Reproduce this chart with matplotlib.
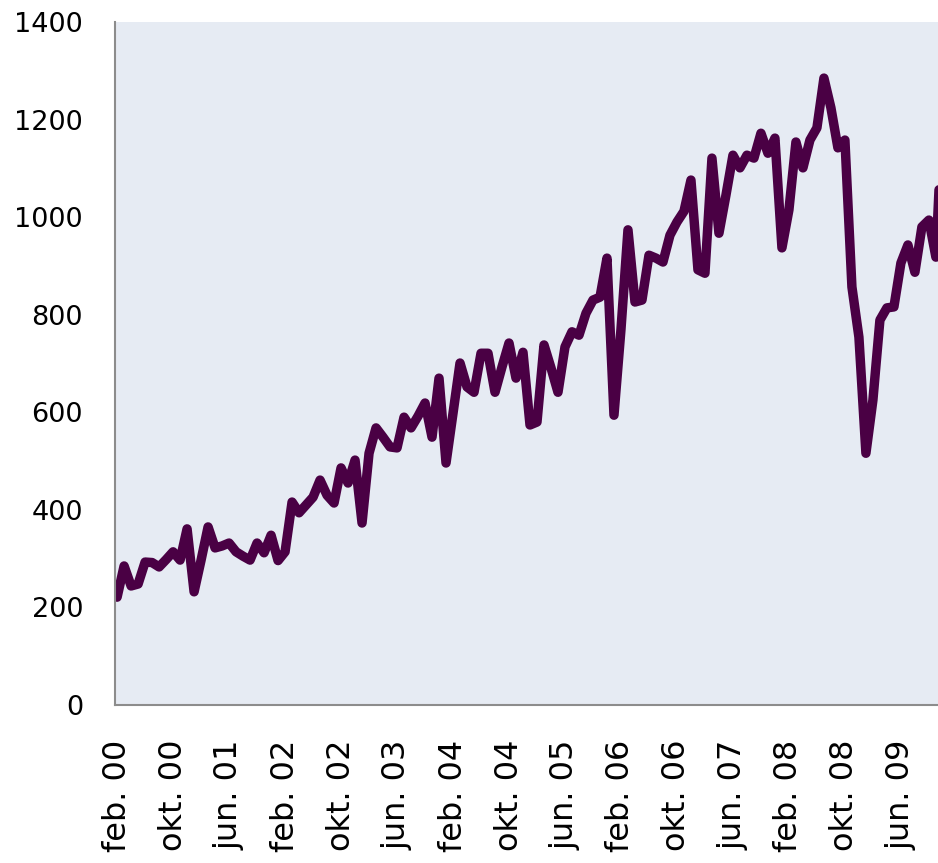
import numpy as np
from matplotlib import pyplot as plt

# monthly values, feb 2000 onwards
values = [221, 285, 244, 248, 293, 292, 283, 298, 314, 297,
          361, 232, 297, 365, 322, 326, 332, 314, 305, 297,
          332, 312, 348, 296, 314, 416, 394, 410, 426, 461,
          430, 414, 486, 455, 502, 373, 516, 568, 549, 529,
          527, 590, 568, 592, 619, 549, 670, 496, 598, 701,
          652, 641, 721, 721, 641, 693, 742, 670, 723, 574,
          580, 738, 691, 641, 734, 765, 758, 803, 830, 836,
          916, 594, 770, 974, 826, 830, 922, 916, 908, 963,
          990, 1012, 1076, 892, 885, 1121, 967, 1045, 1127, 1101,
          1127, 1121, 1172, 1131, 1162, 937, 1015, 1154, 1101, 1158,
          1183, 1285, 1224, 1142, 1158, 857, 754, 516, 625, 789,
          814, 816, 906, 943, 887, 980, 994, 918, 1230]

tick_labels = ['feb. 00', 'okt. 00', 'jun. 01', 'feb. 02', 'okt. 02',
               'jun. 03', 'feb. 04', 'okt. 04', 'jun. 05', 'feb. 06',
               'okt. 06', 'jun. 07', 'feb. 08', 'okt. 08', 'jun. 09']
yticks = [0, 200, 400, 600, 800, 1000, 1200, 1400]

fig = plt.figure(figsize=(9.38, 8.63), dpi=100)
ax = fig.add_axes([115 / 938, 158 / 863, 823 / 938, 683 / 863])
ax.set_facecolor('#e6ebf3')

months = np.arange(len(values))
ax.plot(months, values, color='#4a0044', linewidth=6.8,
        solid_joinstyle='round', solid_capstyle='round')

ax.set_xlim(-0.3, 117.3)
ax.set_ylim(0, 1400)

ax.set_xticks(np.arange(len(tick_labels)) * 8)
ax.set_xticklabels(tick_labels, rotation=90, fontsize=23, va='top')
ax.set_yticks(yticks)
ax.set_yticklabels([str(v) for v in yticks], fontsize=19.5)
ax.tick_params(axis='y', length=0, pad=23)
ax.tick_params(axis='x', length=0, pad=25)

for side in ['top', 'right']:
    ax.spines[side].set_visible(False)
for side in ['left', 'bottom']:
    ax.spines[side].set_color('#8c8c8c')
    ax.spines[side].set_linewidth(1.5)

plt.savefig('out.png', dpi=100)
